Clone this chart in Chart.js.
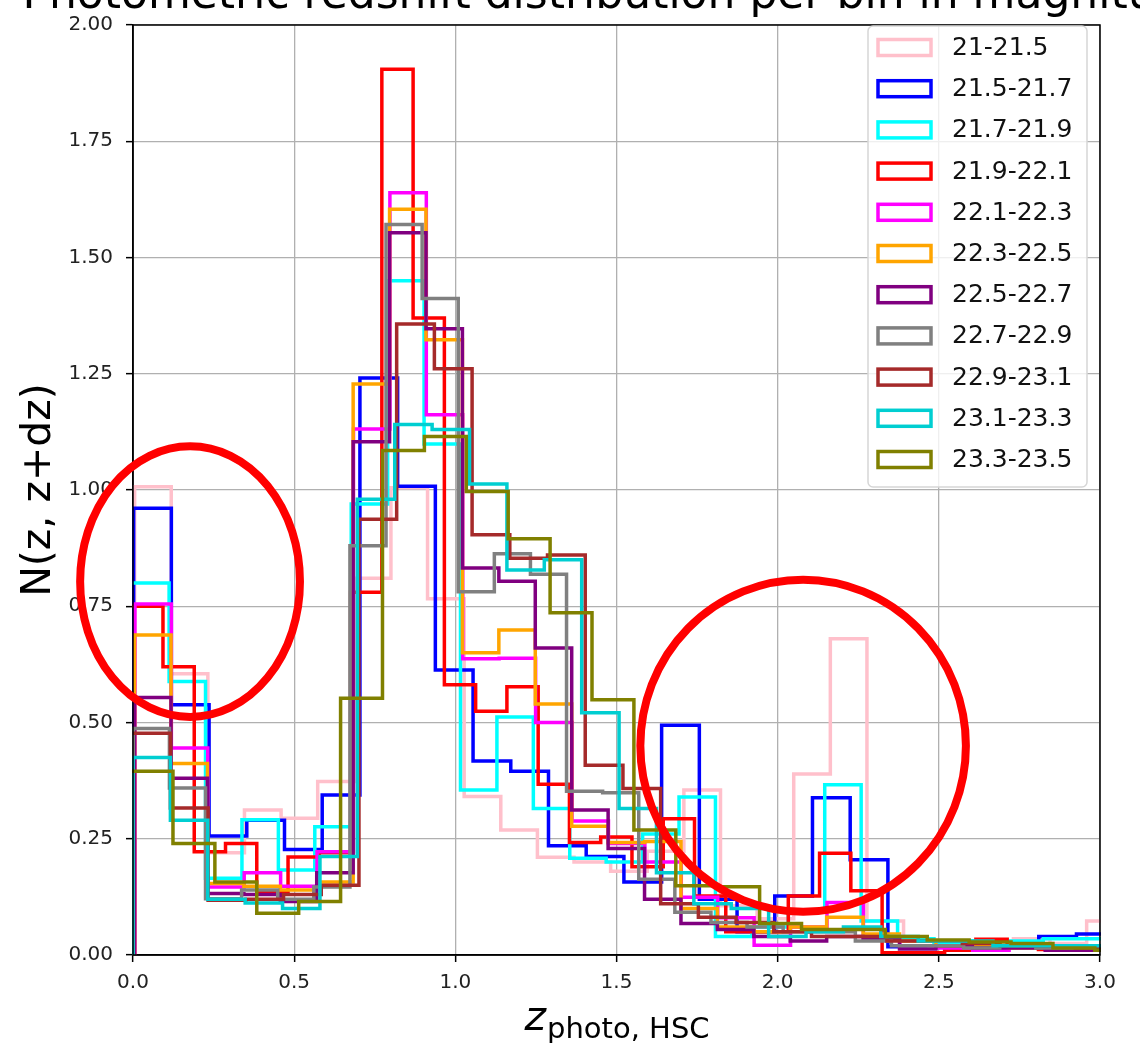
<!DOCTYPE html>
<html>
<head>
<meta charset="utf-8">
<script src="https://cdn.jsdelivr.net/npm/chart.js@4.4.1/dist/chart.umd.min.js"></script>
<style>
  html, body { margin: 0; padding: 0; background: #fff; }
  #wrap { width: 1140px; height: 1043px; }
</style>
</head>
<body>
<div id="wrap"><canvas id="nzChart" width="1140" height="1043"></canvas></div>
<script>
// magnitude bins, one histogram each
const magBins = ["21-21.5", "21.5-21.7", "21.7-21.9", "21.9-22.1", "22.1-22.3", "22.3-22.5",
                 "22.5-22.7", "22.7-22.9", "22.9-23.1", "23.1-23.3", "23.3-23.5"];
const lineColors = ["#ffc0cb", "#0000ff", "#00ffff", "#ff0000", "#ff00ff", "#ffa500",
                    "#800080", "#808080", "#a52a2a", "#00ced1", "#808000"];

// first bin edge and bin width of each histogram
const binStart = [0.005, 0.002, -0.001, -0.004, 0.006, 0.005, 0.005, 0.001, -0.001, 0.0, -0.006];
const binWidth = [0.1136, 0.117, 0.113, 0.097, 0.113, 0.113, 0.113, 0.112, 0.117, 0.116, 0.13];

// normalised counts per bin
const nz_21_215 = [1.007, 0.605, 0.22, 0.312, 0.294, 0.373, 0.81, 1.005, 0.766, 0.341, 0.269, 0.21, 0.2, 0.18,
  0.223, 0.355, 0.106, 0.078, 0.389, 0.68, 0.073, 0.03, 0.025, 0.03, 0.035, 0.025, 0.073];
const nz_215_217 = [0.961, 0.538, 0.256, 0.29, 0.227, 0.344, 1.241, 1.008, 0.613, 0.417, 0.395, 0.235, 0.212,
  0.157, 0.494, 0.12, 0.05, 0.127, 0.338, 0.205, 0.018, 0.02, 0.015, 0.02, 0.04, 0.045];
const nz_217_219 = [0.8, 0.588, 0.165, 0.291, 0.183, 0.276, 0.97, 1.45, 1.099, 0.355, 0.512, 0.315, 0.208, 0.2,
  0.26, 0.34, 0.04, 0.06, 0.095, 0.366, 0.073, 0.035, 0.025, 0.03, 0.03, 0.035, 0.035];
const nz_219_221 = [0.75, 0.62, 0.222, 0.24, 0.136, 0.211, 0.22, 0.78, 1.905, 1.37, 0.581, 0.524, 0.577, 0.367,
  0.242, 0.254, 0.19, 0.293, 0.127, 0.05, 0.05, 0.127, 0.219, 0.138, 0.005, 0.005, 0.01, 0.034, 0.02, 0.012, 0.02];
const nz_221_223 = [0.755, 0.445, 0.146, 0.177, 0.148, 0.222, 1.131, 1.639, 1.162, 0.637, 0.638, 0.5, 0.288,
  0.24, 0.2, 0.124, 0.08, 0.021, 0.06, 0.113, 0.04, 0.02, 0.015, 0.01, 0.02, 0.02, 0.015];
const nz_223_225 = [0.688, 0.412, 0.154, 0.148, 0.14, 0.157, 1.228, 1.604, 1.323, 0.65, 0.699, 0.54, 0.277,
  0.242, 0.244, 0.1, 0.06, 0.05, 0.06, 0.081, 0.045, 0.03, 0.02, 0.02, 0.015, 0.02, 0.015];
const nz_225_227 = [0.554, 0.38, 0.132, 0.13, 0.115, 0.177, 1.104, 1.553, 1.347, 0.832, 0.804, 0.66, 0.312,
  0.229, 0.12, 0.068, 0.055, 0.04, 0.03, 0.04, 0.035, 0.013, 0.02, 0.015, 0.015, 0.01, 0.01];
const nz_227_229 = [0.487, 0.359, 0.121, 0.14, 0.12, 0.146, 0.88, 1.571, 1.412, 0.781, 0.863, 0.819, 0.352,
  0.349, 0.163, 0.092, 0.07, 0.06, 0.05, 0.05, 0.03, 0.02, 0.02, 0.015, 0.02, 0.015, 0.015];
const nz_229_231 = [0.477, 0.316, 0.118, 0.12, 0.13, 0.15, 0.937, 1.357, 1.261, 0.904, 0.853, 0.86, 0.408,
  0.358, 0.11, 0.081, 0.07, 0.05, 0.04, 0.04, 0.03, 0.03, 0.025, 0.02, 0.02, 0.015];
const nz_231_233 = [0.425, 0.29, 0.12, 0.112, 0.1, 0.212, 0.98, 1.141, 1.13, 1.013, 0.828, 0.85, 0.521,
  0.315, 0.177, 0.11, 0.1, 0.04, 0.05, 0.06, 0.04, 0.03, 0.03, 0.02, 0.02, 0.02];
const nz_233_235 = [0.395, 0.24, 0.157, 0.09, 0.115, 0.552, 1.085, 1.115, 0.997, 0.895, 0.736, 0.549, 0.269,
  0.149, 0.147, 0.068, 0.055, 0.055, 0.04, 0.032, 0.028, 0.025, 0.015, 0.01];

const allCounts = [nz_21_215, nz_215_217, nz_217_219, nz_219_221, nz_221_223, nz_223_225,
                   nz_225_227, nz_227_229, nz_229_231, nz_231_233, nz_233_235];

const xTicks = [0.0, 0.5, 1.0, 1.5, 2.0, 2.5, 3.0];
const yTicks = [0.0, 0.25, 0.5, 0.75, 1.0, 1.25, 1.5, 1.75, 2.0];

// highlighted regions (data units): centre x, centre y, half width, half height
const rings = [
  [0.177, 0.803, 0.341, 0.291],
  [2.079, 0.450, 0.505, 0.357]
];

// outline of a step histogram: up at the first edge, across each bin, down at the last edge
function stepOutline(start, width, counts) {
  const pts = [{ x: start, y: 0 }];
  counts.forEach((c, i) => pts.push({ x: start + i * width, y: c }));
  const end = start + counts.length * width;
  pts.push({ x: end, y: counts[counts.length - 1] });
  pts.push({ x: end, y: 0 });
  return pts;
}

const datasets = magBins.map((label, i) => ({
  label: label,
  data: stepOutline(binStart[i], binWidth[i], allCounts[i]),
  borderColor: lineColors[i],
  backgroundColor: "#fff",
  borderWidth: 3.5,
  stepped: true,
  pointRadius: 0,
  fill: false,
  order: magBins.length - i,
  clip: 1
}));

const FONT = "'DejaVu Sans', Arial, sans-serif";

const decorations = {
  id: "decorations",
  afterDraw(chart) {
    const { ctx, chartArea: a, scales: { x, y } } = chart;
    ctx.save();

    // frame around the axes
    ctx.strokeStyle = "#000";
    ctx.lineWidth = 1.5;
    ctx.strokeRect(a.left, a.top, a.right - a.left, a.bottom - a.top);

    // legend box in the upper right
    const lx = 868, ly = 26, lw = 219, lh = 461, r = 5;
    ctx.beginPath();
    ctx.roundRect(lx, ly, lw, lh, r);
    ctx.fillStyle = "rgba(255,255,255,0.8)";
    ctx.fill();
    ctx.strokeStyle = "#d6d6d6";
    ctx.lineWidth = 1.5;
    ctx.stroke();
    ctx.font = "25px " + FONT;
    ctx.textBaseline = "middle";
    ctx.textAlign = "left";
    chart.data.datasets.forEach((ds, i) => {
      const cy = 47.5 + i * 41.2;
      ctx.fillStyle = "#fff";
      ctx.fillRect(878, cy - 8, 53, 16);
      ctx.strokeStyle = ds.borderColor;
      ctx.lineWidth = 3.5;
      ctx.strokeRect(878, cy - 8, 53, 16);
      ctx.fillStyle = "#111";
      ctx.fillText(ds.label, 952, cy + 1);
    });

    // red rings drawn over the plot
    ctx.strokeStyle = "#ff0000";
    ctx.lineWidth = 8;
    rings.forEach(([cx, cy, rx, ry]) => {
      const px = x.getPixelForValue(cx), py = y.getPixelForValue(cy);
      const prx = x.getPixelForValue(cx + rx) - px;
      const pry = py - y.getPixelForValue(cy + ry);
      ctx.beginPath();
      ctx.ellipse(px, py, prx, pry, 0, 0, Math.PI * 2);
      ctx.stroke();
    });

    // axis titles
    ctx.fillStyle = "#000";
    ctx.textBaseline = "alphabetic";
    ctx.save();
    ctx.translate(50, (a.top + a.bottom) / 2);
    ctx.rotate(-Math.PI / 2);
    ctx.textAlign = "center";
    ctx.font = "41px " + FONT;
    ctx.fillText("N(z, z+dz)", 0, 0);
    ctx.restore();

    const zFont = "oblique 41px " + FONT, subFont = "29px " + FONT;
    ctx.font = zFont;
    const zw = ctx.measureText("z").width;
    ctx.font = subFont;
    const sw = ctx.measureText("photo, HSC").width;
    const x0 = (a.left + a.right) / 2 - (zw + sw) / 2;
    ctx.textAlign = "left";
    ctx.font = zFont;
    ctx.fillText("z", x0, 1030);
    ctx.font = subFont;
    ctx.fillText("photo, HSC", x0 + zw + 1, 1038);

    // title, mostly above the top edge of the figure
    ctx.font = "44px " + FONT;
    ctx.textAlign = "center";
    ctx.fillText("Photometric redshift distribution per bin in magnitude", (a.left + a.right) / 2, 8);
    ctx.restore();
  }
};

new Chart(document.getElementById("nzChart"), {
  type: "line",
  data: { datasets },
  options: {
    responsive: false,
    animation: false,
    devicePixelRatio: 1,
    layout: { padding: { top: 13, right: 40, left: 0, bottom: 0 } },
    plugins: { legend: { display: false }, tooltip: { enabled: false } },
    scales: {
      x: {
        type: "linear",
        min: 0,
        max: 3,
        afterFit: (s) => { s.height = 88; },
        afterBuildTicks: (s) => { s.ticks = xTicks.map(v => ({ value: v })); },
        grid: { color: "#b0b0b0", lineWidth: 1.3, tickLength: 7, tickColor: "#000", tickWidth: 1.5 },
        border: { color: "#000", width: 1.5 },
        ticks: { color: "#222", padding: 9, font: { family: FONT, size: 20 }, callback: v => v.toFixed(1) }
      },
      y: {
        min: 0,
        max: 2,
        afterFit: (s) => { s.width = 133; },
        afterBuildTicks: (s) => { s.ticks = yTicks.map(v => ({ value: v })); },
        grid: { color: "#b0b0b0", lineWidth: 1.3, tickLength: 7, tickColor: "#000", tickWidth: 1.5 },
        border: { color: "#000", width: 1.5 },
        ticks: { color: "#222", padding: 13, font: { family: FONT, size: 20 }, callback: v => v.toFixed(2) }
      }
    }
  },
  plugins: [decorations]
});
</script>
</body>
</html>
